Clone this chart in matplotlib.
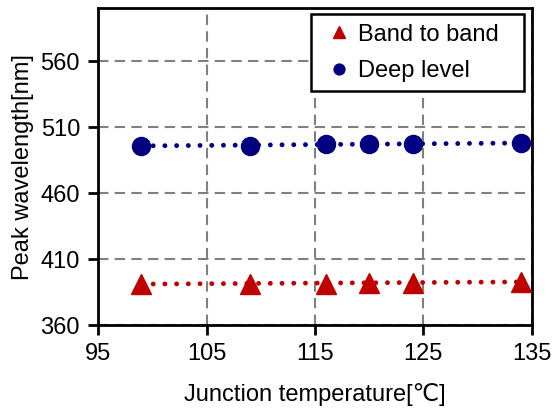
import numpy as np
import matplotlib
matplotlib.use("Agg")
import matplotlib.pyplot as plt

plt.rcParams['font.family'] = ['Liberation Sans', 'DejaVu Sans']

# data
temp = [99, 109, 116, 120, 124, 134]
band_to_band = [391.4, 391.5, 391.4, 392.2, 392.2, 393.0]
deep_level = [495.7, 495.9, 497.3, 497.3, 497.3, 497.6]

x_ticks = [95, 105, 115, 125, 135]
y_ticks = [360, 410, 460, 510, 560]

red = '#C00000'
blue = '#000080'

fig = plt.figure(figsize=(5.54, 4.09), dpi=100)
ax = fig.add_axes([0.177, 0.205, 0.783, 0.775])

# linear trend lines
xs = np.array([temp[0], temp[-1]])
for ys, c in [(band_to_band, red), (deep_level, blue)]:
    k, b = np.polyfit(temp, ys, 1)
    ax.plot(xs, k * xs + b, color=c, lw=3.5, linestyle=(0, (0.01, 2.4)),
            dash_capstyle='round', zorder=3)

ax.plot(temp, band_to_band, '^', color=red, ms=14, mec=red, zorder=4,
        label='Band to band', clip_on=False)
ax.plot(temp, deep_level, 'o', color=blue, ms=13, zorder=4,
        label='Deep level', clip_on=False)

ax.set_xlim(95, 135)
ax.set_ylim(360, 600)
ax.set_xticks(x_ticks)
ax.set_yticks(y_ticks)
ax.grid(True, color='#808080', linestyle=(0, (5, 3)), lw=1.5)
ax.set_axisbelow(True)

for s in ax.spines.values():
    s.set_linewidth(2)
ax.tick_params(direction='out', length=7, width=2, labelsize=17, pad=6)

ax.set_xlabel('Junction temperature[℃]', fontsize=17, labelpad=13)
ax.set_ylabel('Peak wavelength[nm]', fontsize=17, labelpad=5)

leg = ax.legend(loc='upper left', fontsize=17, frameon=True, fancybox=False,
                markerscale=0.6, handlelength=1.6, handletextpad=0.0,
                borderpad=0.4, borderaxespad=0, labelspacing=0.6,
                mode='expand',
                bbox_to_anchor=(0.491, 0.5, 0.491, 0.481))
leg.get_frame().set_edgecolor('black')
leg.get_frame().set_linewidth(1.8)
leg.get_frame().set_alpha(1)

fig.savefig('out.png', dpi=100)
